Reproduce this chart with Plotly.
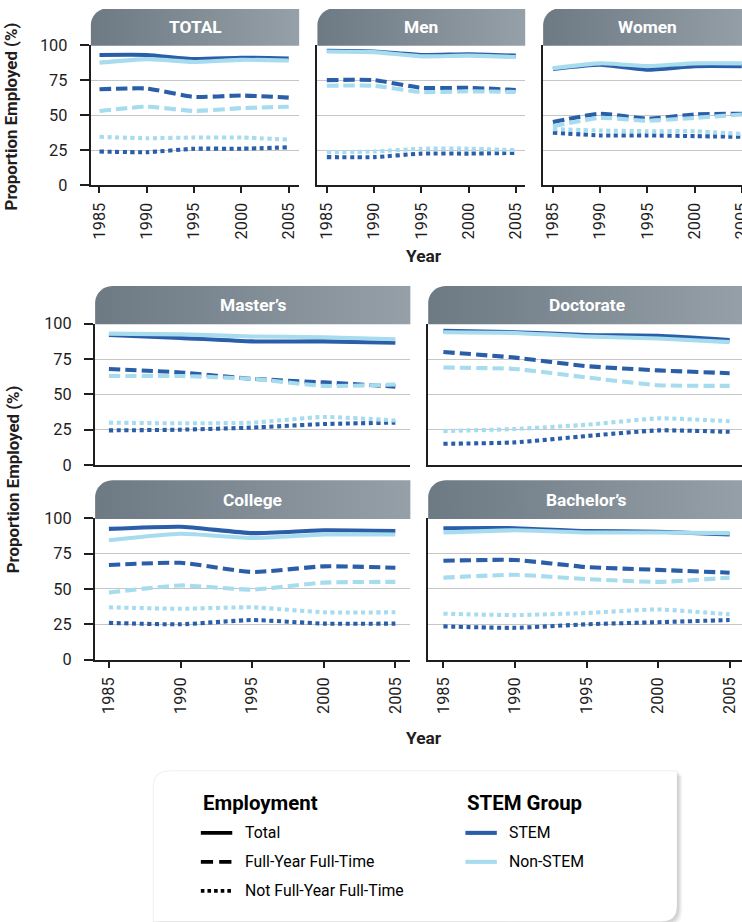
import numpy as np
import plotly.graph_objects as go

# Layout is worked out in final page pixels (742 x 922). The page is shown
# slightly zoomed out (factor S) and the html body keeps an 8px margin, so the
# figure is sized and positioned to compensate for both.
PAGE_W, PAGE_H = 742, 922
S = 0.98
OFF = 8
FW = int(np.ceil(PAGE_W / S - OFF)) + 1
FH = int(np.ceil(PAGE_H / S - OFF)) + 1
K = 1 / S            # converts page pixel sizes to figure pixel sizes
FONT = "Roboto"

# ---- data -------------------------------------------------------------
YEARS = [1985, 1990, 1995, 2000, 2005]
PANELS = ["TOTAL", "Men", "Women", "Master\u2019s", "Doctorate", "College", "Bachelor\u2019s"]
Y_TICKS = [0, 25, 50, 75, 100]

# proportion employed (%), one list per panel, in PANELS order
STEM_TOTAL = [
    [93, 93, 90, 91, 90.5],
    [96, 95.5, 93, 93.5, 92.5],
    [83, 86, 82.5, 85, 85],
    [92, 90, 87.5, 87.5, 86.5],
    [95, 94, 92, 91.5, 88.5],
    [92.5, 94, 89.5, 91.5, 91],
    [93, 93, 91, 90.5, 88.5],
]
STEM_FYFT = [
    [68.5, 69, 63, 64, 62.5],
    [75, 75, 69.5, 69.5, 68],
    [45, 51, 47.5, 50.5, 51],
    [68, 65.5, 61, 58.5, 55.5],
    [80, 76, 70, 67, 65],
    [67, 68.5, 62, 66, 65],
    [70, 70.5, 65.5, 63.5, 61.5],
]
STEM_NOT_FYFT = [
    [24, 23.5, 26, 26, 27],
    [20, 20, 22.5, 22.5, 23],
    [37.5, 35.5, 35.5, 35, 34.5],
    [24.5, 25, 26.5, 29, 30],
    [15, 16, 20.5, 24.5, 23.5],
    [26, 25, 28, 25.5, 25.5],
    [23.5, 22.5, 25, 26.5, 28],
]
NONSTEM_TOTAL = [
    [87.5, 90, 88, 89.5, 89],
    [95.5, 95, 92, 92.5, 91.5],
    [83.5, 87, 85, 87, 87],
    [93, 92.5, 91, 90.5, 89],
    [94, 93.5, 91, 89.5, 87],
    [84.5, 89, 86, 88.5, 88.5],
    [90, 91.5, 90, 90, 89.5],
]
NONSTEM_FYFT = [
    [53, 56, 53, 55, 56],
    [71, 71, 66.5, 67, 66.5],
    [42, 48, 46, 48, 50.5],
    [63, 63, 61, 56, 57],
    [69, 68, 62, 56.5, 56],
    [47.5, 52.5, 49.5, 54.5, 55],
    [58, 60, 57, 55, 58],
]
NONSTEM_NOT_FYFT = [
    [34.5, 33.5, 34, 34, 32.5],
    [23.5, 24, 26, 26, 25],
    [40, 39, 38.5, 38.5, 36.5],
    [30, 29.5, 30, 34, 31.5],
    [24, 25.5, 28.5, 33, 31],
    [37, 36, 37, 33.5, 33.5],
    [32.5, 31.5, 33, 35.5, 32],
]

# ---- styles -----------------------------------------------------------
STEM_COLOR = "#2b5ea9"
NONSTEM_COLOR = "#a7dcee"
INK = "#1f1d1e"
GRID = "#c6c6c6"
HEADER_LEFT, HEADER_RIGHT = "#6d7983", "#95a0a8"


def px(v):
    return f"{v * K:.2f}px"


DASH = f"{px(11)},{px(5)}"
DOT = f"{px(4)},{px(3.5)}"
LW = 4 * K

# panel geometry in page pixels:
# (x0, x1, header_top, plot_top, plot_bottom, px_of_1985, px_per_year, x_labels, y_labels)
GEOM = [
    (96.5, 302, 7, 44, 184, 105.0, 9.335, True, True),
    (320, 525, 7, 44, 184, 329.3, 9.32, True, False),
    (542.7, 748, 7, 44, 184, 552.3, 9.32, True, False),
    (100.7, 411.7, 285, 322.7, 464, 114.3, 14.13, False, True),
    (429.3, 742, 285, 322.7, 464, 444.3, 14.12, False, False),
    (100.7, 411.7, 479.3, 517.3, 658.7, 114.3, 14.13, True, True),
    (429.3, 742, 479.3, 517.3, 658.7, 444.3, 14.12, True, False),
]
PAGE_RIGHT = S * (OFF + FW)


def dom_x(p):
    return min(1.0, max(0.0, (p / S - OFF) / FW))


def dom_y(p):
    return min(1.0, max(0.0, 1 - (p / S - OFF) / FH))


fig = go.Figure()
layout = {}
PX = "x8"   # page-pixel overlay axes used for decoration
PY = "y8"

for i, (x0, x1, htop, ptop, pbot, p85, ppy, xlab, ylab) in enumerate(GEOM):
    n = i + 1
    xa, ya = f"x{n}", f"y{n}"
    xkey = "xaxis" if n == 1 else f"xaxis{n}"
    ykey = "yaxis" if n == 1 else f"yaxis{n}"
    x1c = min(x1, PAGE_RIGHT)
    xr = [1985 + (x0 - p85) / ppy, 1985 + (x1c - p85) / ppy]
    layout[xkey] = dict(
        domain=[dom_x(x0), dom_x(x1c)], range=xr, anchor=ya,
        showline=True, linecolor=INK, linewidth=2 * K, showgrid=False, zeroline=False,
        tickvals=YEARS, ticktext=[str(y) for y in YEARS],
        ticks="outside" if xlab else "", ticklen=6 * K, tickwidth=2 * K, tickcolor=INK,
        showticklabels=xlab, tickangle=-90, ticklabelstandoff=3,
        ticklabeloverflow="allow",
        tickfont=dict(family=FONT, size=16 * K, color=INK), fixedrange=True,
    )
    layout[ykey] = dict(
        domain=[dom_y(pbot), dom_y(ptop)], range=[0, 100], anchor=xa,
        showline=True, linecolor=INK, linewidth=2 * K, zeroline=False,
        showgrid=True, gridcolor=GRID, gridwidth=1.2,
        tickvals=Y_TICKS, ticks="outside" if ylab else "", ticklen=9 * K, tickwidth=2 * K,
        tickcolor=INK, showticklabels=ylab, ticklabelstandoff=9,
        tickfont=dict(family=FONT, size=16 * K, color=INK), fixedrange=True,
    )

    series = [
        (STEM_TOTAL[i], STEM_COLOR, "solid"),
        (STEM_FYFT[i], STEM_COLOR, DASH),
        (STEM_NOT_FYFT[i], STEM_COLOR, DOT),
        (NONSTEM_TOTAL[i], NONSTEM_COLOR, "solid"),
        (NONSTEM_FYFT[i], NONSTEM_COLOR, DASH),
        (NONSTEM_NOT_FYFT[i], NONSTEM_COLOR, DOT),
    ]
    for vals, col, dash in series:
        fig.add_trace(go.Scatter(
            x=YEARS, y=vals, xaxis=xa, yaxis=ya, mode="lines",
            line=dict(color=col, width=LW, dash=dash, shape="spline", smoothing=0.5),
            hoverinfo="skip", showlegend=False,
        ))

# ---- panel header strips (rounded top-left corner, grey gradient) ----
for i, (x0, x1, htop, ptop, pbot, p85, ppy, xlab, ylab) in enumerate(GEOM):
    r = 17
    hb = ptop + 0.6
    t = np.linspace(np.pi, 1.5 * np.pi, 16)
    arc_x = x0 + r + r * np.cos(t)
    arc_y = htop + r + r * np.sin(t)
    xs = [x0] + list(arc_x) + [x1, x1, x0]
    ys = [hb] + list(arc_y) + [htop, hb, hb]
    fig.add_trace(go.Scatter(
        x=xs, y=ys, xaxis=PX, yaxis=PY, mode="none", fill="toself",
        fillcolor=HEADER_LEFT,
        fillgradient=dict(type="horizontal",
                          colorscale=[[0, HEADER_LEFT], [1, HEADER_RIGHT]]),
        hoverinfo="skip", showlegend=False,
    ))

layout["xaxis8"] = dict(domain=[0, 1], range=[S * OFF, S * (OFF + FW)], anchor="y8",
                        visible=False, fixedrange=True)
layout["yaxis8"] = dict(domain=[0, 1], range=[S * (OFF + FH), S * OFF], anchor="x8",
                        visible=False, fixedrange=True)

annotations = []
for i, (x0, x1, htop, ptop, pbot, p85, ppy, xlab, ylab) in enumerate(GEOM):
    annotations.append(dict(
        x=(x0 + x1) / 2, y=(htop + ptop) / 2 + 0.5, xref=PX, yref=PY,
        text=PANELS[i], showarrow=False, xanchor="center", yanchor="middle",
        font=dict(family=FONT, size=17 * K, color="white", weight="bold"),
    ))

# axis titles
for (x, y) in [(18, 115), (20, 478)]:
    annotations.append(dict(
        x=x, y=y, xref=PX, yref=PY, text="Proportion Employed (%)", textangle=-90,
        showarrow=False, xanchor="center", yanchor="middle",
        font=dict(family=FONT, size=16.5 * K, color=INK, weight="bold"),
    ))
for y in [255, 737]:
    annotations.append(dict(
        x=425, y=y, xref=PX, yref=PY, text="Year", showarrow=False,
        xanchor="center", yanchor="middle",
        font=dict(family=FONT, size=17 * K, color=INK, weight="bold"),
    ))

# ---- key box ------------------------------------------------------------
shapes = []
bx0, bx1, by0, by1, br = 158, 675, 770, 921, 16


def box_path(dx=0.0, dy=0.0):
    a0, a1, b0, b1 = bx0 + dx, bx1 + dx, by0 + dy, by1 + dy
    return (f"M {a0},{b0 + br} Q {a0},{b0} {a0 + br},{b0} L {a1},{b0} "
            f"L {a1},{b1 - br} Q {a1},{b1} {a1 - br},{b1} L {a0},{b1} Z")


for off, alpha in [(5, 0.04), (3.5, 0.06), (2, 0.08)]:
    shapes.append(dict(type="path", path=box_path(off, off), xref=PX, yref=PY,
                       fillcolor=f"rgba(0,0,0,{alpha})", line=dict(width=0), layer="above"))
shapes.append(dict(type="path", path=box_path(), xref=PX, yref=PY, fillcolor="white",
                   line=dict(width=1, color="rgba(0,0,0,0.07)"), layer="above"))

KEY_ROWS_Y = [832, 861, 890]
EMPLOYMENT_LABELS = ["Total", "Full-Year Full-Time", "Not Full-Year Full-Time"]
EMPLOYMENT_DASH = ["solid", f"{px(12)},{px(6)}", f"{px(3.5)},{px(3)}"]
GROUP_LABELS = ["STEM", "Non-STEM"]
GROUP_COLORS = [STEM_COLOR, NONSTEM_COLOR]

annotations.append(dict(x=205, y=802, xref=PX, yref=PY, text="Employment", showarrow=False,
                        xanchor="left", yanchor="middle",
                        font=dict(family=FONT, size=20 * K, color="black", weight="bold")))
annotations.append(dict(x=466, y=802, xref=PX, yref=PY, text="STEM Group", showarrow=False,
                        xanchor="left", yanchor="middle",
                        font=dict(family=FONT, size=20 * K, color="black", weight="bold")))
for y, lab, dash in zip(KEY_ROWS_Y, EMPLOYMENT_LABELS, EMPLOYMENT_DASH):
    shapes.append(dict(type="line", x0=205, x1=236, y0=y, y1=y, xref=PX, yref=PY,
                       line=dict(color="black", width=3.5 * K, dash=dash), layer="above"))
    annotations.append(dict(x=246.5, y=y, xref=PX, yref=PY, text=lab, showarrow=False,
                            xanchor="left", yanchor="middle",
                            font=dict(family=FONT, size=15.5 * K, color="black")))
for y, lab, col in zip(KEY_ROWS_Y, GROUP_LABELS, GROUP_COLORS):
    shapes.append(dict(type="line", x0=466, x1=497, y0=y, y1=y, xref=PX, yref=PY,
                       line=dict(color=col, width=4 * K), layer="above"))
    annotations.append(dict(x=507, y=y, xref=PX, yref=PY, text=lab, showarrow=False,
                            xanchor="left", yanchor="middle",
                            font=dict(family=FONT, size=15.5 * K, color="black")))

fig.update_layout(
    width=FW, height=FH, margin=dict(l=0, r=0, t=0, b=0, pad=0),
    paper_bgcolor="white", plot_bgcolor="rgba(0,0,0,0)",
    showlegend=False, annotations=annotations, shapes=shapes,
    font=dict(family=FONT, color=INK),
    **layout,
)

fig.write_html("out.html", config={"displayModeBar": False})
